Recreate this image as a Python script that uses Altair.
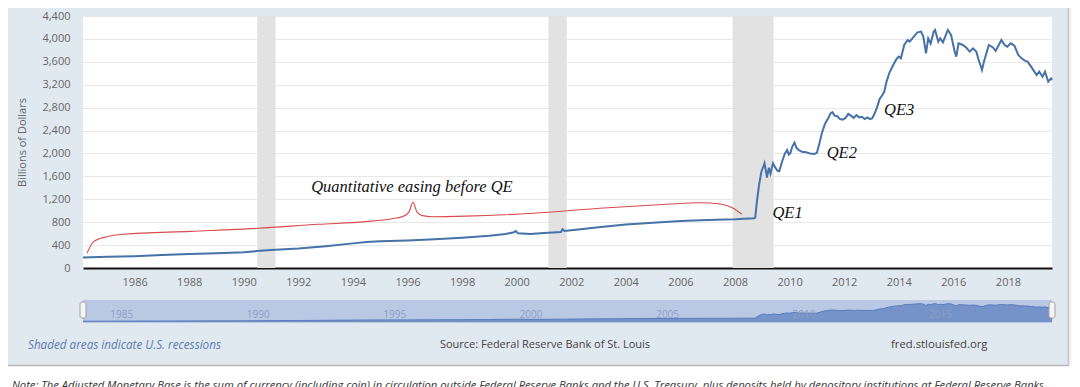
import altair as alt
import pandas as pd

# ---------------- data ----------------
# St. Louis Adjusted Monetary Base, billions of dollars
base_years = [
    1984.11, 1985.0, 1986.0, 1987.0, 1988.0, 1989.0, 1990.0, 1990.6, 1991.0, 1992.0,
    1993.0, 1994.0, 1994.5, 1995.0, 1996.0, 1997.0, 1998.0, 1999.0, 1999.6, 1999.9,
    1999.97, 2000.05, 2000.5, 2001.0, 2001.62, 2001.68, 2001.75, 2002.0, 2003.0, 2004.0,
    2005.0, 2006.0, 2007.0, 2008.0, 2008.7, 2008.74, 2008.80, 2008.88, 2008.97, 2009.03,
    2009.08, 2009.13, 2009.17, 2009.24, 2009.30, 2009.39, 2009.47, 2009.55, 2009.62, 2009.72,
    2009.82, 2009.91, 2009.97, 2010.03, 2010.10, 2010.18, 2010.25, 2010.33, 2010.45, 2010.60,
    2010.75, 2010.90, 2011.00, 2011.08, 2011.18, 2011.30, 2011.40, 2011.50, 2011.57, 2011.65,
    2011.75, 2011.85, 2011.95, 2012.05, 2012.15, 2012.25, 2012.35, 2012.45, 2012.55, 2012.65,
    2012.75, 2012.85, 2012.95, 2013.02, 2013.10, 2013.20, 2013.30, 2013.40, 2013.47, 2013.55,
    2013.65, 2013.75, 2013.83, 2013.92, 2014.00, 2014.08, 2014.20, 2014.33, 2014.40, 2014.50,
    2014.62, 2014.69, 2014.82, 2014.90, 2015.00, 2015.08, 2015.17, 2015.28, 2015.33, 2015.45,
    2015.52, 2015.62, 2015.80, 2015.92, 2016.05, 2016.11, 2016.19, 2016.35, 2016.47, 2016.60,
    2016.72, 2016.84, 2016.93, 2017.05, 2017.12, 2017.30, 2017.45, 2017.55, 2017.76, 2017.88,
    2017.98, 2018.10, 2018.24, 2018.38, 2018.50, 2018.62, 2018.72, 2018.85, 2019.05, 2019.15,
    2019.27, 2019.36, 2019.48, 2019.58, 2019.62,
]
base_values = [
    182, 195, 207, 225, 243, 258, 275, 300, 315, 340,
    380, 430, 455, 465, 480, 500, 530, 565, 595, 625,
    645, 605, 595, 610, 630, 675, 645, 660, 710, 760,
    790, 820, 840, 850, 870, 880, 1150, 1450, 1690, 1760,
    1830, 1700, 1580, 1750, 1650, 1830, 1760, 1700, 1690, 1850,
    1990, 2060, 1980, 2010, 2120, 2190, 2100, 2060, 2030, 2020,
    2000, 1990, 2010, 2150, 2350, 2520, 2600, 2700, 2720, 2660,
    2650, 2600, 2590, 2620, 2690, 2660, 2620, 2670, 2630, 2640,
    2600, 2630, 2600, 2610, 2680, 2800, 2950, 3020, 3080, 3250,
    3400, 3500, 3574, 3650, 3690, 3661, 3894, 3981, 3952, 4010,
    4080, 4115, 4127, 4040, 3749, 4010, 3920, 4127, 4156, 3952,
    4010, 3940, 4156, 4068, 3778, 3690, 3923, 3894, 3850, 3778,
    3836, 3778, 3632, 3457, 3603, 3894, 3850, 3790, 3981, 3894,
    3865, 3923, 3880, 3720, 3661, 3620, 3603, 3515, 3370, 3428,
    3340, 3428, 3253, 3311, 3282,
]

recession_starts = ["1990-07-01T00:00:00", "2001-03-01T00:00:00", "2007-12-01T00:00:00"]
recession_ends = ["1991-03-01T00:00:00", "2001-11-01T00:00:00", "2009-06-01T00:00:00"]

# red hand-drawn brace ("Quantitative easing before QE")
brace_years = [1984.26, 1984.50, 1984.99, 1985.61, 1988.06, 1990.52, 1992.73, 1994.45,
               1995.43, 1995.85, 1996.05, 1996.20, 1996.35, 1996.55, 1996.90, 1998.13,
               2000.58, 2003.04, 2005.49, 2006.72, 2007.45, 2007.94, 2008.25]
brace_values = [262, 460, 547, 590, 640, 693, 763, 809,
                860, 905, 975, 1147, 975, 915, 896, 905,
                955, 1042, 1112, 1140, 1118, 1042, 938]

ann_labels = ["Quantitative easing before QE", "QE1", "QE2", "QE3"]
ann_years = [1992.47, 2009.37, 2011.36, 2013.46]
ann_values = [1414, 960, 2008, 2759]

x_tick_years = list(range(1986, 2019, 2))
y_ticks = list(range(0, 4401, 400))
nav_label_years = [1985, 1990, 1995, 2000, 2005, 2010, 2015]

footer_left = "Shaded areas indicate U.S. recessions"
footer_mid = "Source: Federal Reserve Bank of St. Louis"
footer_right = "fred.stlouisfed.org"
note_text = ("Note: The Adjusted Monetary Base is the sum of currency (including coin) in circulation "
             "outside Federal Reserve Banks and the U.S. Treasury, plus deposits held by depository "
             "institutions at Federal Reserve Banks.")


def to_date(y):
    yr = int(y)
    start = pd.Timestamp(year=yr, month=1, day=1)
    end = pd.Timestamp(year=yr + 1, month=1, day=1)
    return (start + (end - start) * (y - yr)).strftime("%Y-%m-%dT%H:%M:%S")


base_df = pd.DataFrame({"date": [to_date(y) for y in base_years], "value": base_values})
rec_df = pd.DataFrame({"start": recession_starts, "end": recession_ends})
brace_df = pd.DataFrame({"date": [to_date(y) for y in brace_years], "value": brace_values,
                         "order": list(range(len(brace_years)))})
ann_df = pd.DataFrame({"date": [to_date(y) for y in ann_years], "value": ann_values,
                       "label": ann_labels})
nav_lab_df = pd.DataFrame({"date": [to_date(float(y)) for y in nav_label_years],
                           "label": [str(y) for y in nav_label_years]})

W, H = 969, 252
PANEL = "#e1e9f0"

x_scale = alt.Scale(domain=[alt.DateTime(year=1984, month=2, date=10),
                            alt.DateTime(year=2019, month=8, date=14)])
y_scale = alt.Scale(domain=[0, 4400], nice=False)

x_axis = alt.Axis(values=[alt.DateTime(year=y) for y in x_tick_years], format="%Y",
                  tickCount=len(x_tick_years) + 2,
                  title=None, grid=False, ticks=False, domain=True, domainColor="#111",
                  domainWidth=2, labelColor="#666", labelFontSize=11, labelPadding=8,
                  labelFlush=False)
y_axis = alt.Axis(values=y_ticks, format=",d", tickCount=len(y_ticks) + 2,
                  title="Billions of Dollars", grid=True, labelOverlap=False,
                  gridColor="#e8e8e8", ticks=False, domain=False, labelColor="#666",
                  labelFontSize=11, labelPadding=13, titleColor="#666", titleFontSize=11,
                  titleFontWeight="normal", titleAngle=270, titleX=-61, titleY=126,
                  titleBaseline="middle", titleAlign="center")

one = pd.DataFrame({"k": [0]})

rec = alt.Chart(rec_df).mark_rect(color="#e2e2e2").encode(
    x=alt.X("start:T", scale=x_scale, axis=x_axis),
    x2="end:T",
    y=alt.value(0), y2=alt.value(H),
)

line = alt.Chart(base_df).mark_line(color="#4572a7", strokeWidth=2).encode(
    x=alt.X("date:T", scale=x_scale, axis=x_axis),
    y=alt.Y("value:Q", scale=y_scale, axis=y_axis),
)

brace = alt.Chart(brace_df).mark_line(color="#d94a4a", strokeWidth=1.1,
                                      interpolate="monotone").encode(
    x="date:T", y=alt.Y("value:Q", scale=y_scale, axis=y_axis), order="order:Q",
)

ann = alt.Chart(ann_df).mark_text(font="Liberation Serif", fontStyle="italic", fontSize=16.5,
                                  align="left", baseline="middle", color="#111").encode(
    x="date:T", y=alt.Y("value:Q", scale=y_scale, axis=y_axis), text="label:N",
)

main = alt.layer(rec, line, brace, ann)

# ---------------- navigator ----------------
nav_bg = alt.Chart(one).mark_rect(color="#b9c9e4").encode(
    x=alt.value(0), x2=alt.value(W), y=alt.value(284), y2=alt.value(307))

nav_y = alt.Scale(domain=[0, 4300], range=[306, 287], nice=False)
nav_area = alt.Chart(base_df).mark_area(color="#7693c9").encode(
    x="date:T", y=alt.Y("value:Q", scale=nav_y, axis=None))
nav_line = alt.Chart(base_df).mark_line(color="#5a7cbd", strokeWidth=1).encode(
    x="date:T", y=alt.Y("value:Q", scale=nav_y, axis=None))

nav_labels = alt.Chart(nav_lab_df).mark_text(align="left", baseline="middle", dx=3,
                                             fontSize=10, color="#8c9ec4").encode(
    x="date:T", y=alt.value(299), text="label:N")

handle_l = alt.Chart(one).mark_rect(fill="#f4f4f4", stroke="#a0a0a0", strokeWidth=1,
                                    cornerRadius=2).encode(
    x=alt.value(-3), x2=alt.value(3), y=alt.value(286), y2=alt.value(302))
handle_r = alt.Chart(one).mark_rect(fill="#f4f4f4", stroke="#a0a0a0", strokeWidth=1,
                                    cornerRadius=2).encode(
    x=alt.value(W - 3), x2=alt.value(W + 3), y=alt.value(286), y2=alt.value(302))

# ---------------- footer / frame ----------------
f_left = alt.Chart(pd.DataFrame({"t": [footer_left]})).mark_text(
    align="left", baseline="middle", fontSize=11.7, fontStyle="italic", color="#5b7cad").encode(
    x=alt.value(-55), y=alt.value(329), text="t:N")
f_mid = alt.Chart(pd.DataFrame({"t": [footer_mid]})).mark_text(
    align="center", baseline="middle", fontSize=11, color="#444").encode(
    x=alt.value(462), y=alt.value(329), text="t:N")
f_right = alt.Chart(pd.DataFrame({"t": [footer_right]})).mark_text(
    align="left", baseline="middle", fontSize=11.3, color="#444").encode(
    x=alt.value(808), y=alt.value(329), text="t:N")

white_bottom = alt.Chart(one).mark_rect(color="white").encode(
    x=alt.value(-75), x2=alt.value(989), y=alt.value(350), y2=alt.value(380))
white_right = alt.Chart(one).mark_rect(color="#f7f7f7").encode(
    x=alt.value(986), x2=alt.value(989), y=alt.value(-8), y2=alt.value(350))
border_bottom = alt.Chart(one).mark_rule(color="#b8b8b8", strokeWidth=1.5).encode(
    x=alt.value(-75), x2=alt.value(986), y=alt.value(349.5))
border_right = alt.Chart(one).mark_rule(color="#c4c4c4", strokeWidth=1.5).encode(
    x=alt.value(985.5), y=alt.value(-8), y2=alt.value(350))

note = alt.Chart(pd.DataFrame({"t": [note_text]})).mark_text(
    align="left", baseline="alphabetic", fontSize=11.2, fontStyle="italic", color="#333").encode(
    x=alt.value(-71), y=alt.value(373), text="t:N")

nav = alt.layer(nav_bg, nav_area, nav_line, nav_labels, handle_l, handle_r,
                f_left, f_mid, f_right, white_right, white_bottom, border_bottom,
                border_right, note)

chart = alt.layer(main, nav).resolve_scale(y="independent").properties(
    width=W, height=H,
    autosize=alt.AutoSizeParams(type="none"),
    padding={"left": 75, "top": 8, "right": 20, "bottom": 119},
    background=PANEL,
).configure(font="Open Sans").configure_view(strokeWidth=0, fill="white")

chart.save("out.html", embed_options={"renderer": "svg", "actions": False})
